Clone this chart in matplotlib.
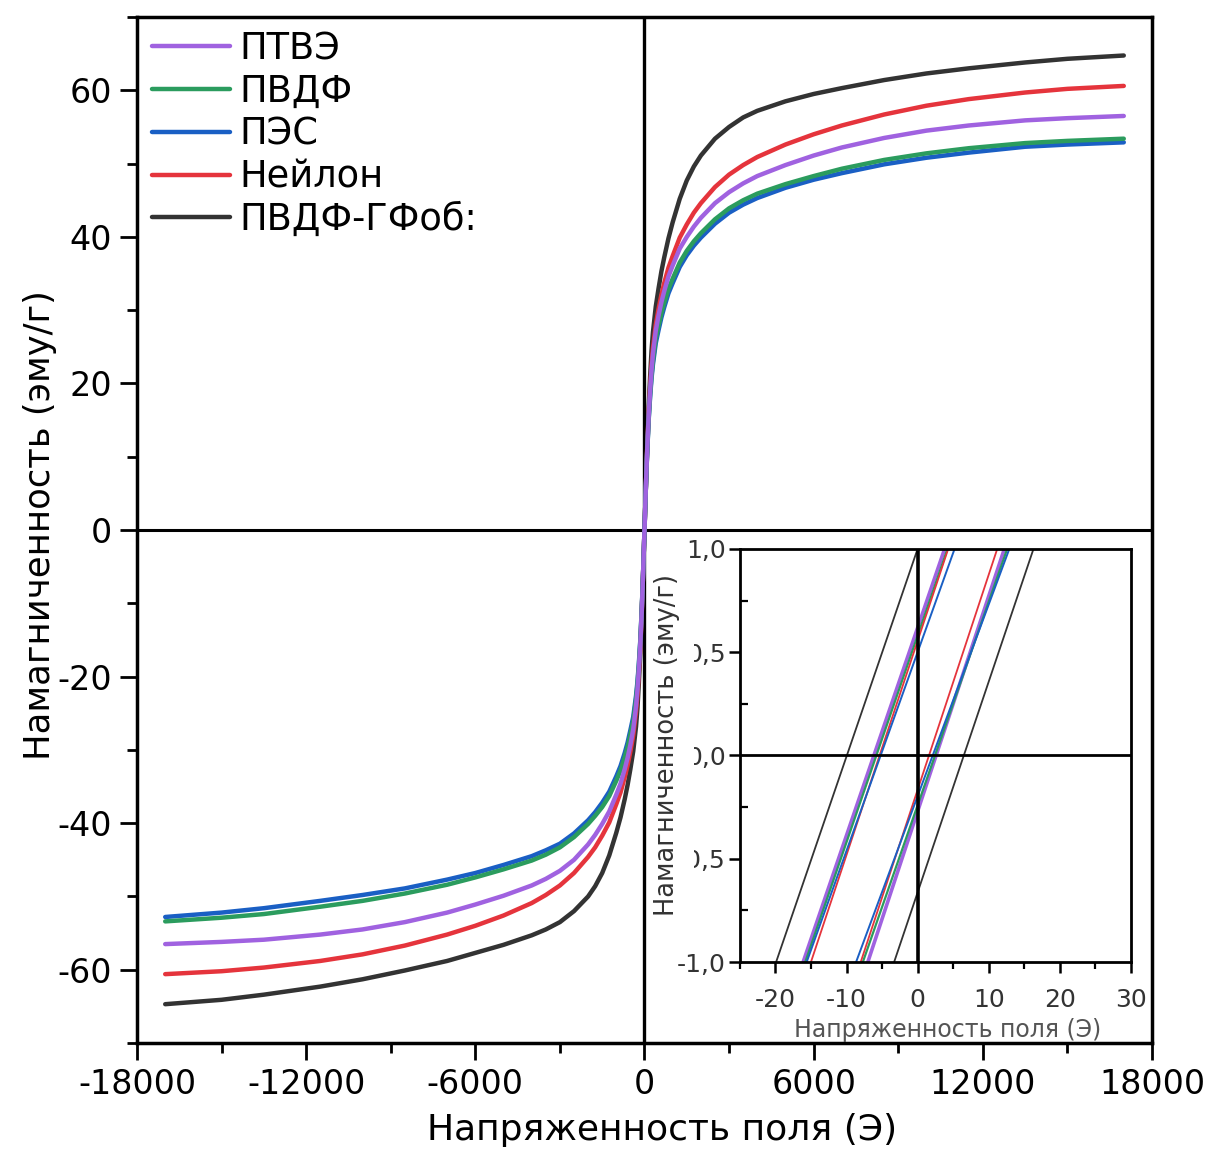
import matplotlib
matplotlib.use("Agg")
import matplotlib.pyplot as plt
from matplotlib.ticker import MultipleLocator, FixedLocator
from matplotlib.patches import Rectangle

plt.rcParams['font.family'] = ['DejaVu Sans']
plt.rcParams['axes.unicode_minus'] = False

# Field magnitudes (Oe) at which each branch is tabulated
h_abs = [0, 25, 50, 75, 100, 150, 200, 250, 300, 400, 500, 600, 700, 850, 1000,
         1250, 1500, 1750, 2000, 2500, 3000, 3500, 4000, 5000, 6000, 7000, 8500,
         10000, 11500, 13500, 15000, 17000]

# |M| (emu/g) for positive field (…_pos) and negative field (…_neg)
ptfe_pos = [0, 3, 6, 8.7, 11.3, 15.7, 19, 21.8, 24, 27.2, 29.3, 31.1, 32.6, 34.6, 36.1,
            38.4, 40.0, 41.4, 42.6, 44.6, 46.1, 47.3, 48.3, 49.8, 51.1, 52.2, 53.5,
            54.5, 55.2, 55.9, 56.2, 56.5]
ptfe_neg = [0, 3, 6, 8.7, 11.3, 15.7, 19, 21.8, 24, 27.2, 29.3, 31.1, 32.6, 34.6, 36.1,
            38.4, 40.1, 41.6, 42.9, 45.0, 46.5, 47.6, 48.5, 49.9, 51.1, 52.2, 53.5,
            54.5, 55.2, 55.9, 56.2, 56.5]
pvdf_pos = [0, 3, 5.9, 8.6, 11.1, 15.3, 18.5, 21.1, 23.1, 26.1, 27.9, 29.6, 31.0, 32.9, 34.3,
            36.5, 38.1, 39.4, 40.5, 42.4, 43.9, 45.0, 45.9, 47.2, 48.3, 49.3, 50.5,
            51.4, 52.1, 52.8, 53.1, 53.4]
pvdf_neg = [0, 3, 5.9, 8.6, 11.1, 15.3, 18.5, 21.1, 23.1, 26.1, 27.9, 29.6, 31.0, 32.8, 34.2,
            36.3, 37.8, 39.0, 40.1, 41.9, 43.3, 44.3, 45.1, 46.3, 47.4, 48.4, 49.6,
            50.6, 51.4, 52.4, 52.9, 53.4]
pes_pos = [0, 3, 5.9, 8.5, 11.0, 15.1, 18.2, 20.7, 22.6, 25.5, 27.3, 29.0, 30.4, 32.3, 33.7,
           35.9, 37.5, 38.8, 39.9, 41.8, 43.3, 44.4, 45.3, 46.7, 47.8, 48.7, 49.9,
           50.8, 51.5, 52.3, 52.6, 52.9]
pes_neg = [0, 3, 5.9, 8.5, 11.0, 15.1, 18.2, 20.7, 22.6, 25.5, 27.3, 29.0, 30.4, 32.2, 33.6,
           35.7, 37.2, 38.5, 39.6, 41.4, 42.8, 43.7, 44.5, 45.7, 46.8, 47.7, 48.9,
           49.8, 50.6, 51.6, 52.2, 52.8]
nylon_pos = [0, 3, 6, 8.8, 11.5, 16, 19.5, 22.5, 24.8, 28, 30.2, 32.1, 33.7, 35.8, 37.4,
             39.9, 41.7, 43.3, 44.6, 46.8, 48.5, 49.8, 50.9, 52.6, 54.0, 55.2, 56.7,
             57.9, 58.8, 59.7, 60.2, 60.6]
nylon_neg = [0, 3, 6, 8.8, 11.5, 16, 19.5, 22.5, 24.8, 28, 30.2, 32.1, 33.7, 35.8, 37.4,
             39.9, 41.7, 43.3, 44.6, 46.8, 48.5, 49.8, 50.9, 52.6, 54.0, 55.2, 56.7,
             57.9, 58.8, 59.7, 60.2, 60.6]
gf_pos = [0, 3, 6, 9, 12, 17, 21, 24.5, 27, 30.5, 33, 35.3, 37.2, 39.8, 42,
          45.2, 47.7, 49.6, 51.1, 53.4, 55.0, 56.3, 57.2, 58.5, 59.5, 60.3, 61.4,
          62.3, 63.0, 63.8, 64.3, 64.75]
gf_neg = [0, 3, 6, 8.9, 11.9, 16.9, 20.9, 24.3, 26.8, 30.2, 32.6, 34.8, 36.7, 39.2, 41.3,
          44.4, 46.8, 48.6, 50.0, 52.0, 53.5, 54.5, 55.3, 56.6, 57.7, 58.8, 60.1,
          61.3, 62.3, 63.4, 64.1, 64.7]

# Low-field loop branches: field (Oe) where each branch reaches M = -1 and M = +1 emu/g
loop_m = [-1.0, 1.0]
ptfe_left, ptfe_right = [-16.1, 3.8], [-7.0, 12.2]
pvdf_left, pvdf_right = [-15.8, 4.2], [-7.7, 12.6]
pes_left, pes_right = [-15.6, 5.2], [-8.65, 12.9]
nylon_left, nylon_right = [-15.0, 4.3], [-8.0, 11.2]
gf_left, gf_right = [-19.9, 0.0], [-3.3, 16.3]

labels = ['ПТВЭ', 'ПВДФ', 'ПЭС', 'Нейлон', 'ПВДФ-ГФоб:']
colors = ['#a062e0', '#2b9c5e', '#1a5fc4', '#e5343c', '#333333']


def full_curve(pos, neg):
    h = [-v for v in reversed(h_abs[1:])] + h_abs
    m = [-v for v in reversed(neg[1:])] + pos
    return h, m


fig = plt.figure(figsize=(12.05, 11.51), dpi=100)
ax = fig.add_axes([0.1137, 0.0938, 0.8423, 0.8914])

ax.axhline(0, color='black', lw=2.2, zorder=1)
ax.axvline(0, color='black', lw=2.4, zorder=1)

branches = [(ptfe_pos, ptfe_neg), (pvdf_pos, pvdf_neg), (pes_pos, pes_neg),
            (nylon_pos, nylon_neg), (gf_pos, gf_neg)]
handles = [None] * 5
for i in [4, 3, 2, 1, 0]:
    h, m = full_curve(*branches[i])
    line, = ax.plot(h, m, color=colors[i], lw=3.2, label=labels[i],
                    solid_capstyle='round', solid_joinstyle='round', zorder=2)
    handles[i] = line

ax.set_xlim(-18000, 18000)
ax.set_ylim(-70, 70)
ax.set_xticks([-18000, -12000, -6000, 0, 6000, 12000, 18000])
ax.set_yticks([-60, -40, -20, 0, 20, 40, 60])
ax.xaxis.set_minor_locator(MultipleLocator(3000))
ax.yaxis.set_minor_locator(MultipleLocator(10))
ax.tick_params(which='major', direction='out', length=12, width=2,
               labelsize=24, top=False, right=False, pad=6)
ax.tick_params(which='minor', direction='out', length=7, width=2,
               top=False, right=False)
for s in ax.spines.values():
    s.set_linewidth(2.5)
ax.set_xlabel('Напряженность поля (Э)', fontsize=26)
ax.xaxis.set_label_coords(0.517, -0.068)
ax.set_ylabel('Намагниченность (эму/г)', fontsize=25.5)
ax.yaxis.set_label_coords(-0.079, 0.505)

ax.legend(handles=handles, loc='upper left', bbox_to_anchor=(0.0148, 0.987),
          frameon=False, fontsize=26.5, handlelength=2.12, handletextpad=0.26,
          labelspacing=0.155, borderpad=0, borderaxespad=0)

# Inset: low-field part of the loops
axi = fig.add_axes([0.614, 0.1642, 0.3245, 0.3589])
axi.set_zorder(3)
lefts = [ptfe_left, pvdf_left, pes_left, nylon_left, gf_left]
rights = [ptfe_right, pvdf_right, pes_right, nylon_right, gf_right]
widths = [2.6, 1.6, 1.4, 1.3, 1.3]
for i in [0, 1, 3, 2, 4]:
    axi.plot(lefts[i], loop_m, color=colors[i], lw=widths[i], zorder=2)
    axi.plot(rights[i], loop_m, color=colors[i], lw=widths[i], zorder=2)
axi.axhline(0, color='black', lw=2.0, zorder=3)
axi.axvline(0, color='black', lw=2.6, zorder=3)
axi.set_xlim(-25, 30)
axi.set_ylim(-1, 1)
axi.set_xticks([-20, -10, 0, 10, 20, 30])
axi.xaxis.set_minor_locator(MultipleLocator(5))
axi.set_yticks([-1.0, -0.5, 0.0, 0.5, 1.0], labels=['-1,0', '-0,5', '0,0', '0,5', '1,0'])
axi.yaxis.set_minor_locator(FixedLocator([-0.75, -0.25, 0.25, 0.75]))
axi.tick_params(axis='x', which='major', direction='out', length=8, width=1.8,
                labelsize=18, labelcolor='#333333', pad=11)
axi.tick_params(axis='x', which='minor', direction='out', length=5, width=1.6)
axi.tick_params(axis='y', which='major', direction='out', length=8, width=1.8,
                labelsize=18, labelcolor='#333333', pad=2)
axi.tick_params(axis='y', which='minor', direction='in', length=6, width=1.6)
for s in axi.spines.values():
    s.set_linewidth(2.0)
axi.set_xlabel('Напряженность поля (Э)', fontsize=17, color='#555555')
axi.xaxis.set_label_coords(0.532, -0.135)

# White band behind the inset's y label, then the label itself on top
axi.add_patch(Rectangle((-0.235, 0.115), 0.117, 0.823, transform=axi.transAxes,
                        facecolor='white', edgecolor='none', clip_on=False, zorder=4))
axi.text(-0.187, 0.525, 'Намагниченность (эму/г)', transform=axi.transAxes,
         rotation=90, ha='center', va='center', fontsize=18.5, color='#333333',
         zorder=5)

fig.savefig('out.png', dpi=100)
